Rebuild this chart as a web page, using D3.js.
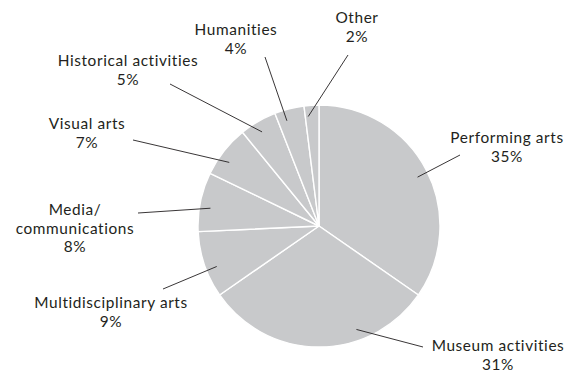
<!DOCTYPE html>
<html>
<head>
<meta charset="utf-8">
<script src="https://cdn.jsdelivr.net/npm/d3@7"></script>
<style>
  html, body { margin: 0; padding: 0; background: #fff; }
  svg { display: block; }
  .lbl { font-family: Lato, "Open Sans", sans-serif; font-size: 15.4px; letter-spacing: 0.6px; fill: #231f20; }
</style>
</head>
<body>
<svg id="chart" width="572" height="373"></svg>
<script>
// Share of arts funding by discipline (percent), clockwise from 12 o'clock
const categories = [
  "Performing arts", "Museum activities", "Multidisciplinary arts",
  "Media/\ncommunications", "Visual arts", "Historical activities",
  "Humanities", "Other"
];
const shares = [35, 31, 9, 8, 7, 5, 4, 2];

// Label placement: text anchor point, outer end of the leader line,
// and where inside its slice (0..1 of the slice's sweep) the leader ends.
const labelLayout = [
  { tx: 507, ty: 143, lx: 460, ly: 155, t: 0.51 },
  { tx: 498, ty: 351, lx: 423, ly: 347, t: 0.32 },
  { tx: 111, ty: 308, lx: 163, ly: 289, t: 0.41 },
  { tx: 75,  ty: 215, lx: 138, ly: 213, t: 0.42 },
  { tx: 87,  ty: 129, lx: 133, ly: 140, t: 0.38 },
  { tx: 128, ty: 66,  lx: 170, ly: 84,  t: 0.45 },
  { tx: 236, ty: 35,  lx: 265, ly: 57,  t: 0.31 },
  { tx: 357, ty: 23,  lx: 348, ly: 55,  t: 0.21 }
];
const lineGap = 18.7;

const svg = d3.select("#chart");
const cx = 319, cy = 226, radius = 121, leaderR = 110;

const pie = d3.pie().sort(null).value(d => d.value);
const arcs = pie(categories.map((c, i) => ({ name: c, value: shares[i] })));
const arc = d3.arc().innerRadius(0).outerRadius(radius);

const g = svg.append("g").attr("transform", `translate(${cx},${cy})`);

g.selectAll("path.slice")
  .data(arcs)
  .join("path")
  .attr("class", "slice")
  .attr("d", arc)
  .attr("fill", "#c8c9cb")
  .attr("stroke", "#ffffff")
  .attr("stroke-width", 1.4)
  .attr("stroke-linejoin", "round");

// Leader lines from inside each slice to its label
arcs.forEach((a, i) => {
  const L = labelLayout[i];
  const ang = a.startAngle + (a.endAngle - a.startAngle) * L.t;
  const ix = cx + leaderR * Math.sin(ang);
  const iy = cy - leaderR * Math.cos(ang);
  svg.append("line")
    .attr("x1", L.lx).attr("y1", L.ly)
    .attr("x2", ix).attr("y2", iy)
    .attr("stroke", "#231f20")
    .attr("stroke-width", 0.9);
});

// Labels: name lines followed by percentage
arcs.forEach((a, i) => {
  const L = labelLayout[i];
  const lines = a.data.name.split("\n").concat([a.data.value + "%"]);
  const text = svg.append("text")
    .attr("class", "lbl")
    .attr("text-anchor", "middle")
    .attr("x", L.tx).attr("y", L.ty);
  lines.forEach((ln, k) => {
    text.append("tspan")
      .attr("x", L.tx)
      .attr("dy", k === 0 ? 0 : lineGap)
      .text(ln);
  });
});
</script>
</body>
</html>
